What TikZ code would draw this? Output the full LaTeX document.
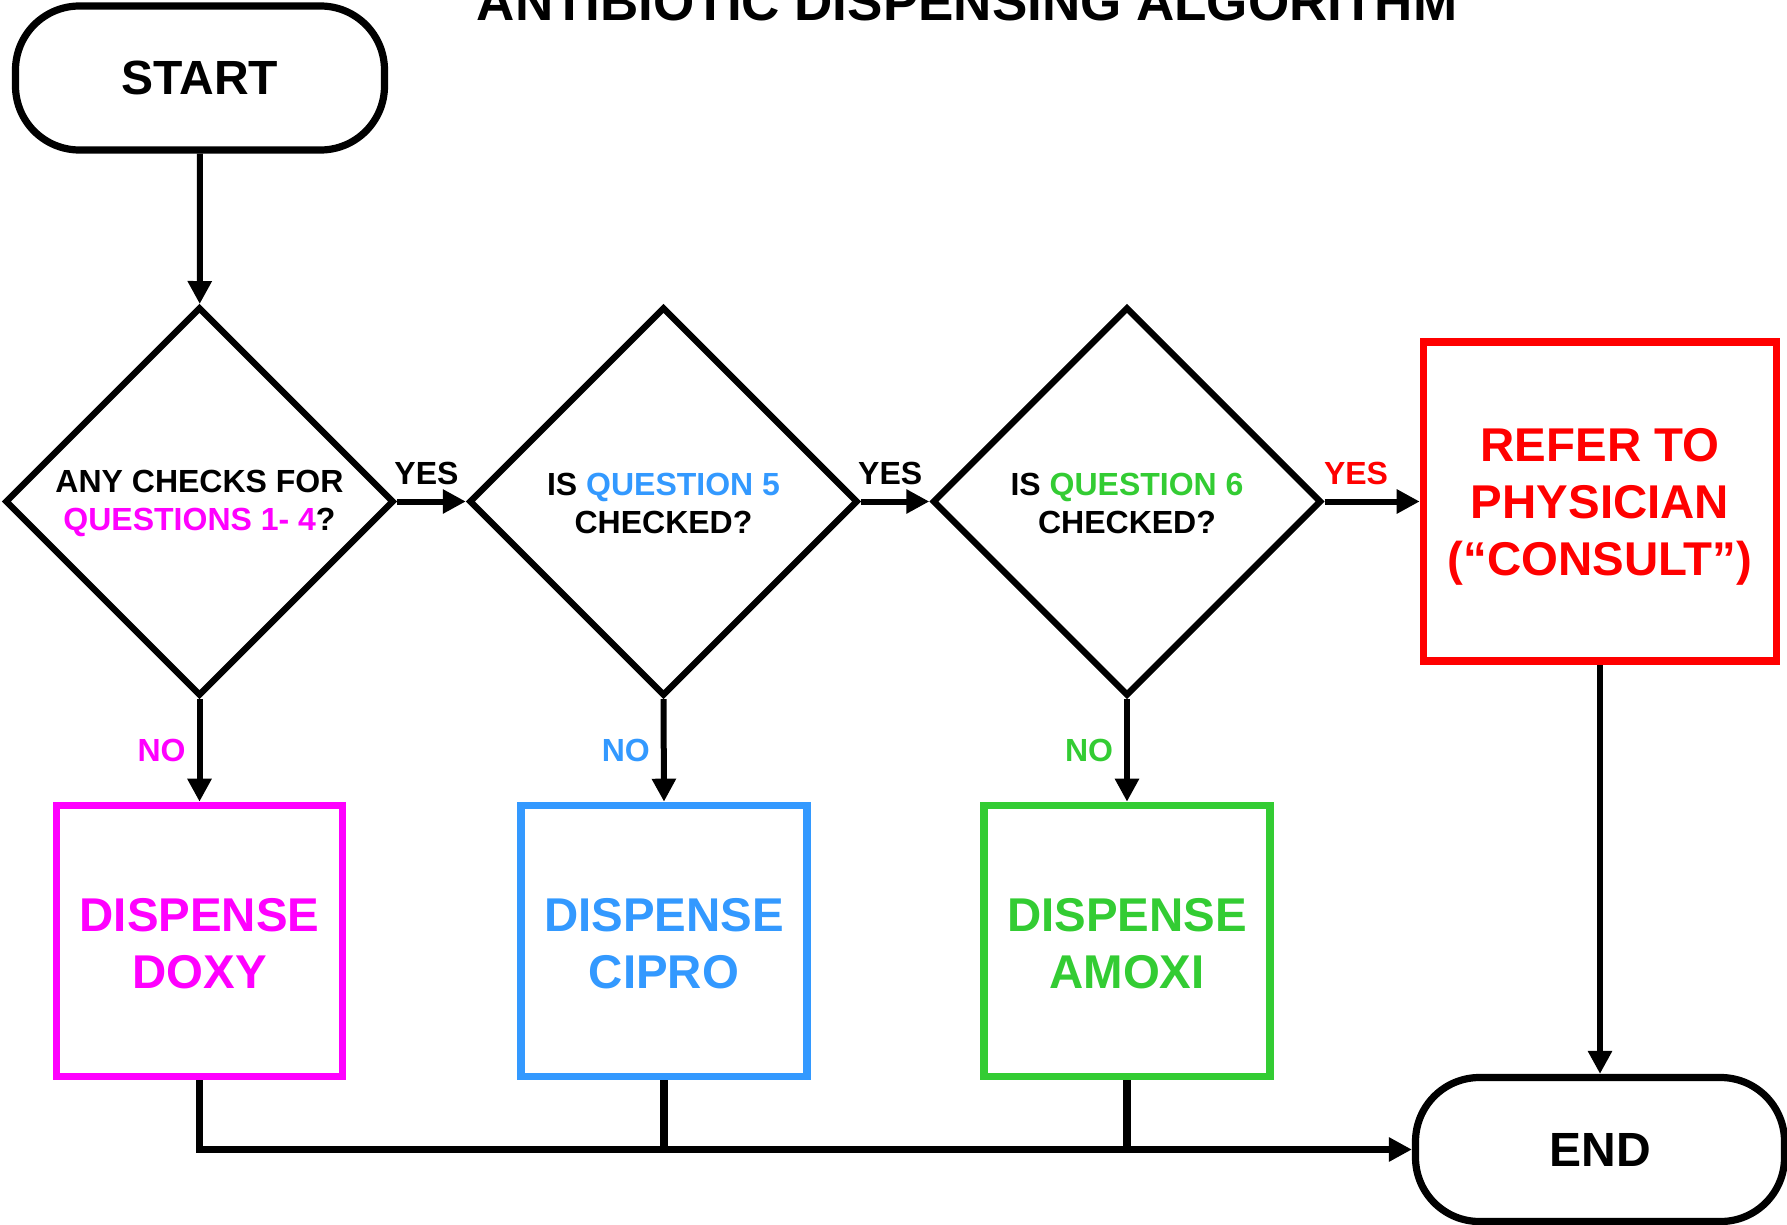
\documentclass[tikz,border=0pt]{standalone}
\usepackage{fontspec}
\setmainfont{Liberation Sans}
\usetikzlibrary{shapes.geometric,arrows.meta}
\definecolor{cmag}{HTML}{FF00FF}
\definecolor{cblue}{HTML}{3399FF}
\definecolor{cgreen}{HTML}{33CC33}
\definecolor{cred}{HTML}{FF0000}
\tikzset{
  terminal/.style={draw=black, line width=3.6pt, rounded corners=32pt, minimum width=184.5pt, minimum height=72pt, inner sep=0pt,
    font=\bfseries\fontsize{24}{28}\selectfont},
  decision/.style={draw=black, diamond, line width=3.2pt, minimum width=194.5pt, minimum height=194.5pt, inner sep=0pt, aspect=1},
  dtext/.style={align=center, inner sep=0pt, font=\bfseries\fontsize{16}{18.8}\selectfont},
  actionbox/.style={draw=#1, line width=3.8pt, minimum width=143pt, minimum height=135.5pt, inner sep=0pt},
  atext/.style={text=#1, align=center, inner sep=0pt, font=\bfseries\fontsize{23.7}{28.5}\selectfont},
  flow/.style={line width=3pt, -{Triangle[length=11.5pt,width=11.5pt]}},
  joinline/.style={line width=3.9pt},
  lbl/.style={font=\bfseries\fontsize{16}{18}\selectfont, inner sep=0pt}
}
\begin{document}
\begin{tikzpicture}[x=0.5pt,y=-0.5pt]
\useasboundingbox (0,0) rectangle (1787,1225);
\node[anchor=base, font=\bfseries\fontsize{26.5}{30}\selectfont] (title) at (967,21) {ANTIBIOTIC DISPENSING ALGORITHM};
\node[terminal] (start) at (200,78) {START};
\node[decision] (d1) at (199.5,501.5) {};
\node[decision] (d2) at (663.5,501.5) {};
\node[decision] (d3) at (1127,501.5) {};
\node[dtext] (d1t) at ([yshift=-1pt]d1.center) {ANY CHECKS FOR\\\textcolor{cmag}{QUESTIONS 1- 4}?};
\node[dtext] (d2t) at ([yshift=-1pt]d2.center) {IS \textcolor{cblue}{QUESTION 5}\\CHECKED?};
\node[dtext] (d3t) at ([yshift=-1pt]d3.center) {IS \textcolor{cgreen}{QUESTION 6}\\CHECKED?};
\node[actionbox=cred, minimum width=176.5pt, minimum height=159.5pt] (refer) at (1600,501.5) {};
\node[atext=cred] (refert) at ([yshift=-2.5pt]refer.center) {REFER TO\\PHYSICIAN\\(“CONSULT”)};
\node[actionbox=cmag] (doxy) at (199.5,941) {};
\node[actionbox=cblue] (cipro) at (664,941) {};
\node[actionbox=cgreen] (amoxi) at (1127,941) {};
\node[atext=cmag] (doxyt) at ([yshift=-1.5pt]doxy.center) {DISPENSE\\DOXY};
\node[atext=cblue] (ciprot) at ([yshift=-1.5pt]cipro.center) {DISPENSE\\CIPRO};
\node[atext=cgreen] (amoxit) at ([yshift=-1.5pt]amoxi.center) {DISPENSE\\AMOXI};
\node[terminal] (end) at (1600,1149.5) {END};

\draw[flow] (start) -- (d1);
\draw[flow] (d1.east) -- node[lbl, midway, above=7pt, xshift=-2.5pt] (yes1) {YES} (d2.west);
\draw[flow] (d2.east) -- node[lbl, midway, above=7pt, xshift=-2.5pt] (yes2) {YES} (d3.west);
\draw[flow] (d3.east) -- node[lbl, pos=0.33, above=7pt, text=cred] (yes3) {YES} (refer.west);
\draw[flow] (d1.south) -- node[lbl, midway, left=5.5pt, text=cmag] (no1) {NO} (doxy.north);
\draw[flow] (d2.south) -- node[lbl, midway, left=5.5pt, text=cblue] (no2) {NO} (cipro.north);
\draw[flow] (d3.south) -- node[lbl, midway, left=5.5pt, text=cgreen] (no3) {NO} (amoxi.north);
\draw[flow] (refer.south) -- (end.north);
\draw[joinline] (doxy.south) -- (doxy.south |- end.west) -- ([xshift=-10pt]end.west);
\draw[flow] ([xshift=-12pt]end.west) -- (end.west);
\draw[joinline] (cipro.south) -- (cipro.south |- end.west);
\draw[joinline] (amoxi.south) -- (amoxi.south |- end.west);
\end{tikzpicture}
\end{document}
